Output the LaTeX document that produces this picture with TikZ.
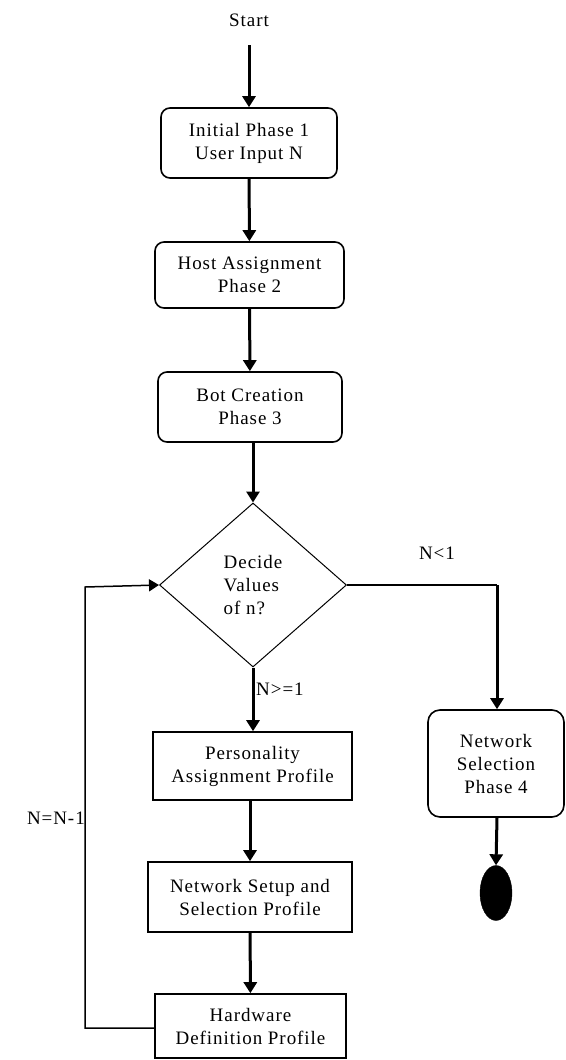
\documentclass[tikz,border=0pt]{standalone}
\usepackage{fontspec}
\setmainfont{Liberation Serif}[LetterSpace=5]
\usetikzlibrary{arrows.meta,shapes.geometric}
\begin{document}
\begin{tikzpicture}[x=1pt,y=-1pt,
  every node/.style={font=\fontsize{19}{23}\selectfont},
  rbox/.style={draw,line width=1.6pt,rounded corners=9pt,align=center,inner sep=0pt},
  sbox/.style={draw,line width=1.6pt,align=center,inner sep=0pt},
  flow/.style={line width=3pt,-{Triangle[width=13pt,length=11pt]}},
  thinflow/.style={line width=1.5pt,-{Triangle[width=12pt,length=10pt]}},
  lbl/.style={inner sep=0pt}]
\useasboundingbox (0,0) rectangle (565,1060);
\node[lbl] (start) at (249,20) {Start};
\node[rbox,minimum width=176pt,minimum height=70pt] (b1) at (249,143) {Initial Phase 1\\User Input N};
\node[rbox,minimum width=189pt,minimum height=66pt] (b2) at (249.5,275) {Host Assignment\\Phase 2};
\node[rbox,minimum width=184pt,minimum height=70pt] (b3) at (250,407) {Bot Creation\\Phase 3};
\node[draw,diamond,line width=1pt,minimum width=187pt,minimum height=164pt,inner sep=0pt,align=left] (dec) at (253,585) {Decide\\Values\\of n?};
\node[lbl,anchor=west] (ge) at (256,689) {N>=1};
\node[sbox,minimum width=199pt,minimum height=68pt] (b4) at (252.5,766) {Personality\\Assignment Profile};
\node[sbox,minimum width=204pt,minimum height=70pt] (b5) at (250,897) {Network Setup and\\Selection Profile};
\node[sbox,minimum width=191pt,minimum height=64pt] (b6) at (250.5,1026) {Hardware\\Definition Profile};
\node[rbox,minimum width=136pt,minimum height=107pt,rounded corners=12pt] (b7) at (496,763.5) {Network\\Selection\\Phase 4};
\node[draw,ellipse,fill=black,minimum width=32pt,minimum height=55pt,inner sep=0pt] (end) at (496,893) {};
\node[lbl] (lt) at (437,553) {N<1};
\node[lbl,anchor=east] (dec1) at (85,818) {N=N-1};
\coordinate (c1) at (497,585);
\coordinate (l1) at (85,1028);
\coordinate (l2) at (85,587);
\draw[flow] (start.south |- 0,45) -- (b1.north);
\draw[flow] (b1) -- (b2);
\draw[flow] (b2) -- (b3);
\draw[flow] (b3.south -| dec.north) -- (dec.north);
\draw[flow] (dec.south) -- (dec.south |- b4.north);
\draw[flow] (b4.south -| 250,0) -- (b5.north -| 250,0);
\draw[flow] (b5) -- (b6);
\draw[line width=1.2pt] (dec.east) -- (c1);
\draw[flow] (c1) -- (b7.north -| c1);
\draw[flow] (b7.south -| c1) -- (end.north);
\draw[thinflow] (b6.west |- l1) -- (l1) -- (l2) -- (dec.west);
\end{tikzpicture}
\end{document}
